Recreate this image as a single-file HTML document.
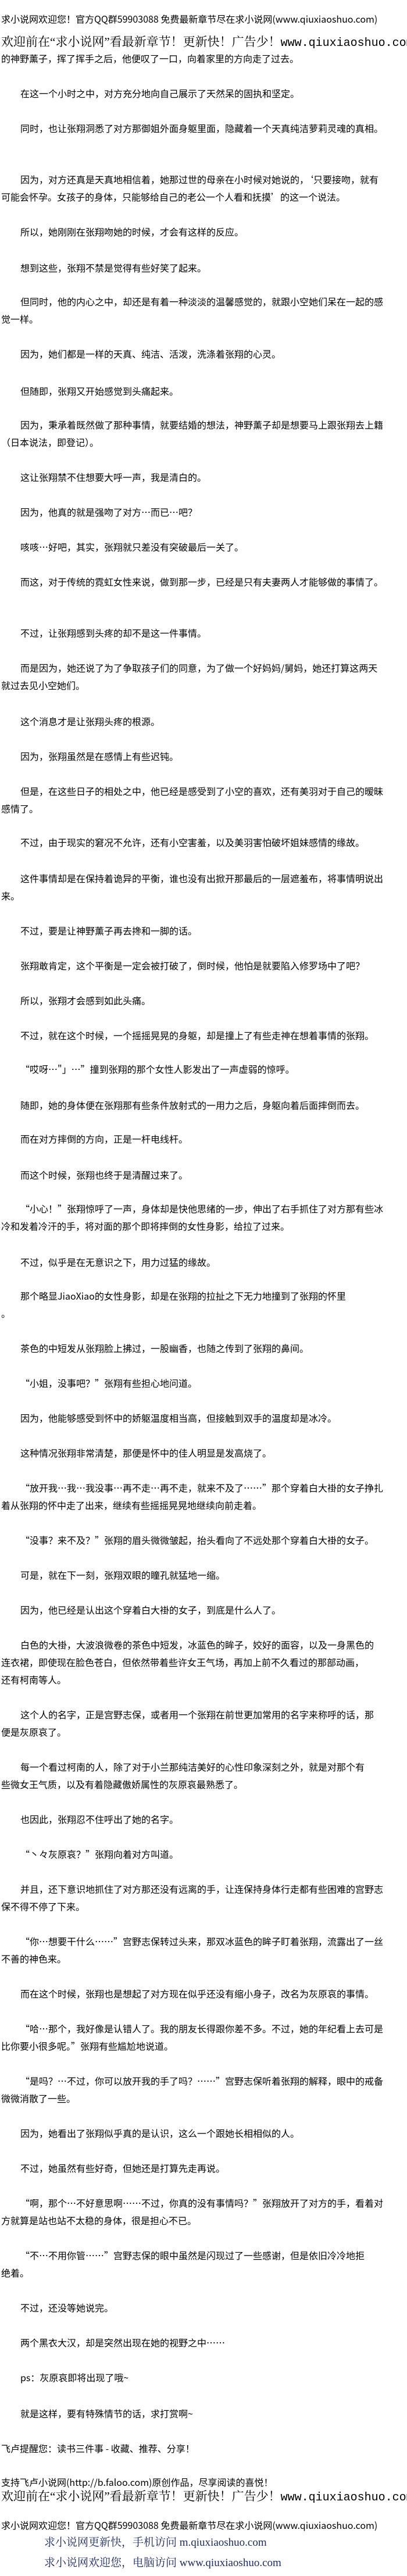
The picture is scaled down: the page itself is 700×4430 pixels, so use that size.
<!DOCTYPE html>
<html lang="zh-CN">
<head>
<meta charset="utf-8">
<style>
  html, body { margin:0; padding:0; background:#fff; }
  body { width:700px; height:4430px; position:relative; overflow:hidden; }
  .l { position:absolute; left:2px; white-space:nowrap; font-family:"Noto Sans CJK SC","Liberation Sans",sans-serif; font-size:16px; line-height:30px; color:#000; }
  .p { text-indent:33px; }
  .big { font-family:"Liberation Serif","Noto Serif CJK SC",serif; font-size:21px; }
  .big .m { font-family:"Liberation Mono",monospace; font-size:20px; }
  .blue { font-family:"Liberation Serif","Noto Serif CJK SC",serif; font-size:19px; color:#1b2a6b; left:76px; }
</style>
</head>
<body>
<div class="l" style="top:17px;">求小说网欢迎您！官方QQ群59903088 免费最新章节尽在求小说网(www.qiuxiaoshuo.com)</div>
<div class="l big" style="top:57px;">欢迎前在“求小说网”看最新章节！更新快！广告少！<span class="m">www.qiuxiaoshuo.com</span></div>
<div class="l" style="top:85px;">的神野薰子，挥了挥手之后，他便叹了一口，向着家里的方向走了过去。</div>
<div class="l p" style="top:145px;">在这一个小时之中，对方充分地向自己展示了天然呆的固执和坚定。</div>
<div class="l p" style="top:205px;">同时，也让张翔洞悉了对方那御姐外面身躯里面，隐藏着一个天真纯洁萝莉灵魂的真相。</div>
<div class="l p" style="top:293px;">因为，对方还真是天真地相信着，她那过世的母亲在小时候对她说的，‘只要接吻，就有<br>可能会怀孕。女孩子的身体，只能够给自己的老公一个人看和抚摸’的这一个说法。</div>
<div class="l p" style="top:383px;">所以，她刚刚在张翔吻她的时候，才会有这样的反应。</div>
<div class="l p" style="top:445px;">想到这些，张翔不禁是觉得有些好笑了起来。</div>
<div class="l p" style="top:503px;">但同时，他的内心之中，却还是有着一种淡淡的温馨感觉的，就跟小空她们呆在一起的感<br>觉一样。</div>
<div class="l p" style="top:593px;">因为，她们都是一样的天真、纯洁、活泼，洗涤着张翔的心灵。</div>
<div class="l p" style="top:657px;">但随即，张翔又开始感觉到头痛起来。</div>
<div class="l p" style="top:715px;">因为，秉承着既然做了那种事情，就要结婚的想法，神野薰子却是想要马上跟张翔去上籍<br>（日本说法，即登记）。</div>
<div class="l p" style="top:805px;">这让张翔禁不住想要大呼一声，我是清白的。</div>
<div class="l p" style="top:865px;">因为，他真的就是强吻了对方…而已…吧？</div>
<div class="l p" style="top:925px;">咳咳…好吧，其实，张翔就只差没有突破最后一关了。</div>
<div class="l p" style="top:985px;">而这，对于传统的霓虹女性来说，做到那一步，已经是只有夫妻两人才能够做的事情了。</div>
<div class="l p" style="top:1073px;">不过，让张翔感到头疼的却不是这一件事情。</div>
<div class="l p" style="top:1133px;">而是因为，她还说了为了争取孩子们的同意，为了做一个好妈妈/舅妈，她还打算这两天<br>就过去见小空她们。</div>
<div class="l p" style="top:1225px;">这个消息才是让张翔头疼的根源。</div>
<div class="l p" style="top:1285px;">因为，张翔虽然是在感情上有些迟钝。</div>
<div class="l p" style="top:1345px;">但是，在这些日子的相处之中，他已经是感受到了小空的喜欢，还有美羽对于自己的暧昧<br>感情了。</div>
<div class="l p" style="top:1433px;">不过，由于现实的窘况不允许，还有小空害羞，以及美羽害怕破坏姐妹感情的缘故。</div>
<div class="l p" style="top:1495px;">这件事情却是在保持着诡异的平衡，谁也没有出掀开那最后的一层遮羞布，将事情明说出<br>来。</div>
<div class="l p" style="top:1585px;">不过，要是让神野薰子再去搀和一脚的话。</div>
<div class="l p" style="top:1645px;">张翔敢肯定，这个平衡是一定会被打破了，倒时候，他怕是就要陷入修罗场中了吧？</div>
<div class="l p" style="top:1705px;">所以，张翔才会感到如此头痛。</div>
<div class="l p" style="top:1765px;">不过，就在这个时候，一个摇摇晃晃的身躯，却是撞上了有些走神在想着事情的张翔。</div>
<div class="l p" style="top:1823px;">“哎呀…"」…”撞到张翔的那个女性人影发出了一声虚弱的惊呼。</div>
<div class="l p" style="top:1885px;">随即，她的身体便在张翔那有些条件放射式的一用力之后，身躯向着后面摔倒而去。</div>
<div class="l p" style="top:1943px;">而在对方摔倒的方向，正是一杆电线杆。</div>
<div class="l p" style="top:2005px;">而这个时候，张翔也终于是清醒过来了。</div>
<div class="l p" style="top:2063px;">“小心！”张翔惊呼了一声，身体却是快他思绪的一步，伸出了右手抓住了对方那有些冰<br>冷和发着冷汗的手，将对面的那个即将摔倒的女性身影，给拉了过来。</div>
<div class="l p" style="top:2155px;">不过，似乎是在无意识之下，用力过猛的缘故。</div>
<div class="l p" style="top:2213px;">那个略显JiaoXiao的女性身影，却是在张翔的拉扯之下无力地撞到了张翔的怀里<br>。</div>
<div class="l p" style="top:2303px;">茶色的中短发从张翔脸上拂过，一股幽香，也随之传到了张翔的鼻间。</div>
<div class="l p" style="top:2363px;">“小姐，没事吧？”张翔有些担心地问道。</div>
<div class="l p" style="top:2423px;">因为，他能够感受到怀中的娇躯温度相当高，但接触到双手的温度却是冰冷。</div>
<div class="l p" style="top:2483px;">这种情况张翔非常清楚，那便是怀中的佳人明显是发高烧了。</div>
<div class="l p" style="top:2543px;">“放开我…我…我没事…再不走…再不走，就来不及了……”那个穿着白大褂的女子挣扎<br>着从张翔的怀中走了出来，继续有些摇摇晃晃地继续向前走着。</div>
<div class="l p" style="top:2633px;">“没事？来不及？”张翔的眉头微微皱起，抬头看向了不远处那个穿着白大褂的女子。</div>
<div class="l p" style="top:2693px;">可是，就在下一刻，张翔双眼的瞳孔就猛地一缩。</div>
<div class="l p" style="top:2753px;">因为，他已经是认出这个穿着白大褂的女子，到底是什么人了。</div>
<div class="l p" style="top:2813px;">白色的大褂，大波浪微卷的茶色中短发，冰蓝色的眸子，姣好的面容，以及一身黑色的<br>连衣裙，即使现在脸色苍白，但依然带着些许女王气场，再加上前不久看过的那部动画，<br>还有柯南等人。</div>
<div class="l p" style="top:2933px;">这个人的名字，正是宫野志保，或者用一个张翔在前世更加常用的名字来称呼的话，那<br>便是灰原哀了。</div>
<div class="l p" style="top:3023px;">每一个看过柯南的人，除了对于小兰那纯洁美好的心性印象深刻之外，就是对那个有<br>些微女王气质，以及有着隐藏傲娇属性的灰原哀最熟悉了。</div>
<div class="l p" style="top:3113px;">也因此，张翔忍不住呼出了她的名字。</div>
<div class="l p" style="top:3173px;">“丶々灰原哀？”张翔向着对方叫道。</div>
<div class="l p" style="top:3233px;">并且，还下意识地抓住了对方那还没有远离的手，让连保持身体行走都有些困难的宫野志<br>保不得不停了下来。</div>
<div class="l p" style="top:3323px;">“你…想要干什么……”宫野志保转过头来，那双冰蓝色的眸子盯着张翔，流露出了一丝<br>不善的神色来。</div>
<div class="l p" style="top:3413px;">而在这个时候，张翔也是想起了对方现在似乎还没有缩小身子，改名为灰原哀的事情。</div>
<div class="l p" style="top:3473px;">“哈…那个，我好像是认错人了。我的朋友长得跟你差不多。不过，她的年纪看上去可是<br>比你要小很多呢。”张翔有些尴尬地说道。</div>
<div class="l p" style="top:3563px;">“是吗？…不过，你可以放开我的手了吗？……”宫野志保听着张翔的解释，眼中的戒备<br>微微消散了一些。</div>
<div class="l p" style="top:3653px;">因为，她看出了张翔似乎真的是认识，这么一个跟她长相相似的人。</div>
<div class="l p" style="top:3713px;">不过，她虽然有些好奇，但她还是打算先走再说。</div>
<div class="l p" style="top:3773px;">“啊，那个…不好意思啊……不过，你真的没有事情吗？”张翔放开了对方的手，看着对<br>方就算是站也站不太稳的身体，很是担心不已。</div>
<div class="l p" style="top:3863px;">“不…不用你管……”宫野志保的眼中虽然是闪现过了一些感谢，但是依旧冷冷地拒<br>绝着。</div>
<div class="l p" style="top:3953px;">不过，还没等她说完。</div>
<div class="l p" style="top:4013px;">两个黑衣大汉，却是突然出现在她的视野之中……</div>
<div class="l p" style="top:4073px;">ps：灰原哀即将出现了哦~</div>
<div class="l p" style="top:4135px;">就是这样，要有特殊情节的话，求打赏啊~</div>
<div class="l" style="top:4195px;">飞卢提醒您：读书三件事 - 收藏、推荐、分享！</div>
<div class="l" style="top:4253px;">支持飞卢小说网(http://b.faloo.com)原创作品，尽享阅读的喜悦！</div>
<div class="l big" style="top:4278px;">欢迎前在“求小说网”看最新章节！更新快！广告少！<span class="m">www.qiuxiaoshuo.com</span></div>
<div class="l" style="top:4327px;">求小说网欢迎您！官方QQ群59903088 免费最新章节尽在求小说网(www.qiuxiaoshuo.com)</div>
<div class="l blue" style="top:4358px;">求小说网更新快，手机访问 m.qiuxiaoshuo.com</div>
<div class="l blue" style="top:4393px;">求小说网欢迎您，电脑访问 www.qiuxiaoshuo.com</div>
</body>
</html>
